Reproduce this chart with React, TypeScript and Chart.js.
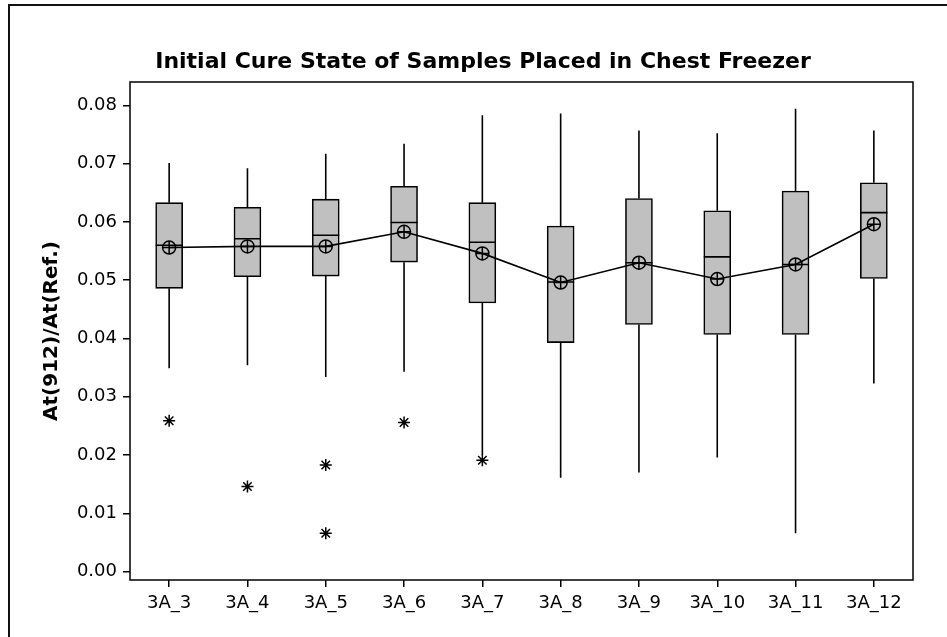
import React, { useEffect, useRef } from 'react';
import { Chart, registerables } from 'chart.js';

Chart.register(...registerables);

const labels = ['3A_3', '3A_4', '3A_5', '3A_6', '3A_7', '3A_8', '3A_9', '3A_10', '3A_11', '3A_12'];
const whiskerLow = [0.0349, 0.0354, 0.0334, 0.0343, 0.0200, 0.0161, 0.0170, 0.0196, 0.0066, 0.0323];
const q1 = [0.0486, 0.0506, 0.0507, 0.0531, 0.0461, 0.0393, 0.0424, 0.0407, 0.0407, 0.0503];
const median = [0.0560, 0.0571, 0.0577, 0.0599, 0.0565, 0.0497, 0.0530, 0.0540, 0.0527, 0.0616];
const q3 = [0.0633, 0.0625, 0.0639, 0.0661, 0.0633, 0.0593, 0.0640, 0.0619, 0.0653, 0.0667];
const whiskerHigh = [0.0701, 0.0692, 0.0717, 0.0734, 0.0783, 0.0786, 0.0757, 0.0752, 0.0794, 0.0757];
const mean = [0.0556, 0.0558, 0.0558, 0.0583, 0.0546, 0.0496, 0.0530, 0.0502, 0.0527, 0.0596];
const outlierGroup = [0, 1, 2, 2, 3, 4];
const outlierValue = [0.0259, 0.0146, 0.0183, 0.0066, 0.0256, 0.0191];
const yTicks = [0.0, 0.01, 0.02, 0.03, 0.04, 0.05, 0.06, 0.07, 0.08];

const title = 'Initial Cure State of Samples Placed in Chest Freezer';
const yTitle = 'At(912)/At(Ref.)';

const BOX_HALF = 0.1725;

export default function App() {
  const ref = useRef<HTMLCanvasElement>(null);

  useEffect(() => {
    const canvas = ref.current;
    if (!canvas) return;

    const whiskers: any[] = [];
    const medians: any[] = [];
    labels.forEach((_, i) => {
      whiskers.push({ x: i, y: whiskerLow[i] }, { x: i, y: q1[i] }, { x: i, y: null });
      whiskers.push({ x: i, y: q3[i] }, { x: i, y: whiskerHigh[i] }, { x: i, y: null });
      medians.push({ x: i - BOX_HALF, y: median[i] }, { x: i + BOX_HALF, y: median[i] }, { x: i, y: null });
    });
    const means = labels.map((_, i) => ({ x: i, y: mean[i] }));
    const outliers = outlierValue.map((v, k) => ({ x: outlierGroup[k], y: v }));
    const boxes = labels.map((_, i) => ({ x: i, y: [q1[i], q3[i]] }));

    const borderPlugin = {
      id: 'plotBorder',
      afterDatasetsDraw(chart: any) {
        const { ctx, chartArea } = chart;
        const { left, top, right, bottom } = chartArea;
        ctx.save();
        ctx.strokeStyle = '#000';
        ctx.lineWidth = 1.5;
        ctx.strokeRect(left, top, right - left, bottom - top);
        ctx.restore();
      },
    };

    const tickFont = { family: 'DejaVu Sans', size: 18 };
    const lw = 1.6;

    const chart = new Chart(canvas, {
      type: 'bar',
      data: {
        datasets: [
          {
            type: 'line',
            data: outliers as any,
            showLine: false,
            pointStyle: 'star',
            pointRadius: 6,
            pointBorderWidth: 1.5,
            pointBorderColor: '#000',
            pointBackgroundColor: '#000',
            yAxisID: 'y',
            order: 1,
          } as any,
          {
            type: 'line',
            data: means as any,
            showLine: false,
            pointStyle: 'cross',
            pointRadius: 6.5,
            pointBorderWidth: 1.5,
            pointBorderColor: '#000',
            yAxisID: 'y',
            order: 1,
          } as any,
          {
            type: 'line',
            data: means as any,
            borderColor: '#000',
            borderWidth: lw,
            fill: false,
            pointStyle: 'circle',
            pointRadius: 6.5,
            pointBorderWidth: 1.5,
            pointBorderColor: '#000',
            pointBackgroundColor: 'rgba(0,0,0,0)',
            yAxisID: 'y',
            order: 2,
          } as any,
          {
            type: 'line',
            data: medians as any,
            borderColor: '#000',
            borderWidth: lw,
            spanGaps: false,
            pointRadius: 0,
            fill: false,
            yAxisID: 'y',
            order: 3,
          } as any,
          {
            type: 'line',
            data: whiskers as any,
            borderColor: '#000',
            borderWidth: lw,
            spanGaps: false,
            pointRadius: 0,
            fill: false,
            yAxisID: 'y',
            order: 4,
          } as any,
          {
            type: 'bar',
            data: boxes as any,
            backgroundColor: '#c0c0c0',
            borderColor: '#000',
            borderWidth: lw,
            borderSkipped: false,
            barThickness: 27,
            yAxisID: 'y',
            order: 5,
          } as any,
        ],
      },
      options: {
        responsive: false,
        animation: false,
        devicePixelRatio: 1,
        layout: { padding: 0 },
        plugins: {
          legend: { display: false },
          tooltip: { enabled: false },
          title: {
            display: true,
            text: title,
            color: '#000',
            font: { family: 'DejaVu Sans', size: 22, weight: 'bold', lineHeight: 1.2 },
            padding: { top: 49, bottom: 6.6 },
          },
        },
        scales: {
          x: {
            type: 'linear',
            min: -0.5,
            max: 9.5,
            offset: false,
            afterBuildTicks: (scale: any) => {
              scale.ticks = labels.map((_, i) => ({ value: i }));
            },
            afterFit: (scale: any) => {
              scale.height = 57;
            },
            ticks: {
              autoSkip: false,
              maxRotation: 0,
              color: '#000',
              padding: 6,
              font: tickFont,
              callback: (v: any) => labels[Math.round(Number(v))] ?? '',
            },
            grid: {
              display: true,
              offset: false,
              drawOnChartArea: false,
              drawTicks: true,
              tickLength: 7,
              color: '#000',
              lineWidth: 1.5,
            },
            border: { display: false },
          },
          y: {
            type: 'linear',
            position: 'left',
            min: -0.00143,
            max: 0.0840,
            afterBuildTicks: (scale: any) => {
              scale.ticks = yTicks.map((v) => ({ value: v }));
            },
            afterFit: (scale: any) => {
              scale.width = 130;
            },
            ticks: {
              color: '#000',
              padding: 6,
              font: tickFont,
              callback: (v: any) => Number(v).toFixed(2),
            },
            grid: {
              display: true,
              drawOnChartArea: false,
              drawTicks: true,
              tickLength: 7,
              color: '#000',
              lineWidth: 1.5,
            },
            border: { display: false },
            title: {
              display: true,
              text: yTitle,
              color: '#000',
              font: { family: 'DejaVu Sans', size: 20, weight: 'bold', lineHeight: 1.2 },
              padding: { top: 40, bottom: 0 },
            },
          },
          yRight: {
            type: 'linear',
            position: 'right',
            display: true,
            afterFit: (scale: any) => {
              scale.width = 53;
            },
            ticks: { display: false },
            grid: { display: false, drawTicks: false },
            border: { display: false },
          },
        },
      },
      plugins: [borderPlugin],
    } as any);

    return () => chart.destroy();
  }, []);

  return (
    <div
      style={{
        position: 'fixed',
        left: 0,
        top: 0,
        width: 947,
        height: 637,
        overflow: 'hidden',
        background: '#fff',
      }}
    >
      <div
        style={{
          position: 'absolute',
          left: 8,
          top: 4,
          width: 2000,
          height: 2000,
          borderTop: '2px solid #111',
          borderLeft: '2px solid #111',
        }}
      />
      <canvas
        ref={ref}
        width={966}
        height={637}
        style={{ position: 'absolute', left: 0, top: 0, width: 966, height: 637 }}
      />
    </div>
  );
}
